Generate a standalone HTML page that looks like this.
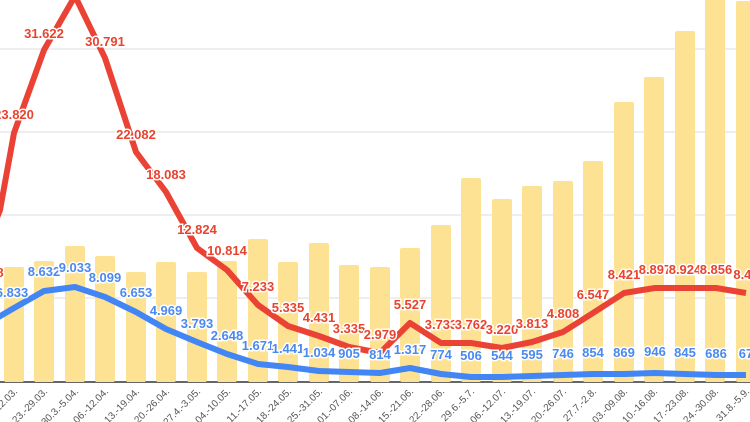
<!DOCTYPE html>
<html><head><meta charset="utf-8"><style>
html,body{margin:0;padding:0;background:#fff;}
svg{display:block;font-family:"Liberation Sans",Arial,sans-serif;}
.r{fill:#e8432f;font-weight:bold;font-size:13px;text-anchor:middle;paint-order:stroke;stroke:#fff;stroke-width:3px;}
.b{fill:#4a89f0;font-weight:bold;font-size:13px;text-anchor:middle;paint-order:stroke;stroke:#fff;stroke-width:3px;}
.x{fill:#555;font-size:10px;text-anchor:end;}
</style></head><body>
<svg width="750" height="422" viewBox="0 0 750 422">
<g stroke="#dcdcdc" stroke-width="1">
<line x1="0" y1="49" x2="750" y2="49"/><line x1="0" y1="132" x2="750" y2="132"/>
<line x1="0" y1="215" x2="750" y2="215"/><line x1="0" y1="298" x2="750" y2="298"/>
</g>
<line x1="0" y1="382" x2="750" y2="382" stroke="#666" stroke-width="2"/>
<g fill="#fde293">
<rect x="4" y="267" width="20" height="115" rx="2"/>
<rect x="34" y="261" width="20" height="121" rx="2"/>
<rect x="65" y="246" width="20" height="136" rx="2"/>
<rect x="95" y="256" width="20" height="126" rx="2"/>
<rect x="126" y="272" width="20" height="110" rx="2"/>
<rect x="156" y="262" width="20" height="120" rx="2"/>
<rect x="187" y="272" width="20" height="110" rx="2"/>
<rect x="217" y="261" width="20" height="121" rx="2"/>
<rect x="248" y="239" width="20" height="143" rx="2"/>
<rect x="278" y="262" width="20" height="120" rx="2"/>
<rect x="309" y="243" width="20" height="139" rx="2"/>
<rect x="339" y="265" width="20" height="117" rx="2"/>
<rect x="370" y="267" width="20" height="115" rx="2"/>
<rect x="400" y="248" width="20" height="134" rx="2"/>
<rect x="431" y="225" width="20" height="157" rx="2"/>
<rect x="461" y="178" width="20" height="204" rx="2"/>
<rect x="492" y="199" width="20" height="183" rx="2"/>
<rect x="522" y="186" width="20" height="196" rx="2"/>
<rect x="553" y="181" width="20" height="201" rx="2"/>
<rect x="583" y="161" width="20" height="221" rx="2"/>
<rect x="614" y="102" width="20" height="280" rx="2"/>
<rect x="644" y="77" width="20" height="305" rx="2"/>
<rect x="675" y="31" width="20" height="351" rx="2"/>
<rect x="705" y="-5" width="20" height="387" rx="2"/>
<rect x="736" y="1" width="20" height="381" rx="2"/>
</g>
<polyline fill="none" stroke="#4285f4" stroke-width="6" stroke-linejoin="round" points="-10,322 14,308 44,291 75,287 105,297 136,312 166,329 197,342 227,354 258,364 288,367 319,371 349,372 380,373 410,368 441,374 471,377 502,377 532,376 563,375 593,374 624,374 655,373 685,374 716,375 746,375"/>
<polyline fill="none" stroke="#ea4335" stroke-width="6" stroke-linejoin="round" points="-6,225 0,210 14,133 44,50 75,-4 105,58 136,152 166,192 197,248 227,270 258,305 288,326 319,336 349,347 380,353 410,323 441,343 471,343 502,348 532,342 563,332 593,313 624,293 655,288 685,288 716,288 746,293"/>
<g class="r">
<text x="0" y="277">8</text>
<text x="14" y="119">23.820</text><text x="44" y="38">31.622</text><text x="105" y="46">30.791</text>
<text x="136" y="139">22.082</text><text x="166" y="179">18.083</text><text x="197" y="234">12.824</text>
<text x="227" y="255">10.814</text><text x="258" y="291">7.233</text><text x="288" y="312">5.335</text>
<text x="319" y="322">4.431</text><text x="349" y="333">3.335</text><text x="380" y="339">2.979</text>
<text x="410" y="309">5.527</text><text x="441" y="329">3.733</text><text x="471" y="329">3.762</text>
<text x="502" y="334">3.220</text><text x="532" y="328">3.813</text><text x="563" y="318">4.808</text>
<text x="593" y="299">6.547</text><text x="624" y="279">8.421</text><text x="655" y="274">8.897</text>
<text x="685" y="274">8.924</text><text x="716" y="274">8.856</text><text x="746" y="279">8.44</text>
</g>
<g class="b">
<text x="12" y="297">6.833</text><text x="44" y="276">8.632</text><text x="75" y="272">9.033</text>
<text x="105" y="282">8.099</text><text x="136" y="297">6.653</text><text x="166" y="315">4.969</text>
<text x="197" y="328">3.793</text><text x="227" y="340">2.648</text><text x="258" y="350">1.671</text>
<text x="288" y="353">1.441</text><text x="319" y="357">1.034</text><text x="349" y="358">905</text>
<text x="380" y="359">814</text><text x="410" y="354">1.317</text><text x="441" y="359">774</text>
<text x="471" y="360">506</text><text x="502" y="360">544</text><text x="532" y="359">595</text>
<text x="563" y="358">746</text><text x="593" y="357">854</text><text x="624" y="357">869</text>
<text x="655" y="356">946</text><text x="685" y="357">845</text><text x="716" y="358">686</text>
<text x="746" y="358">67</text>
</g>
<g class="x">
<text transform="translate(18,392) rotate(-45)">16.-22.03.</text>
<text transform="translate(48,392) rotate(-45)">23.-29.03.</text>
<text transform="translate(79,392) rotate(-45)">30.3.-5.04.</text>
<text transform="translate(109,392) rotate(-45)">06.-12.04.</text>
<text transform="translate(140,392) rotate(-45)">13.-19.04.</text>
<text transform="translate(170,392) rotate(-45)">20.-26.04.</text>
<text transform="translate(201,392) rotate(-45)">27.4.-3.05.</text>
<text transform="translate(231,392) rotate(-45)">04.-10.05.</text>
<text transform="translate(262,392) rotate(-45)">11.-17.05.</text>
<text transform="translate(292,392) rotate(-45)">18.-24.05.</text>
<text transform="translate(323,392) rotate(-45)">25.-31.05.</text>
<text transform="translate(353,392) rotate(-45)">01.-07.06.</text>
<text transform="translate(384,392) rotate(-45)">08.-14.06.</text>
<text transform="translate(414,392) rotate(-45)">15.-21.06.</text>
<text transform="translate(445,392) rotate(-45)">22.-28.06.</text>
<text transform="translate(475,392) rotate(-45)">29.6.-5.7.</text>
<text transform="translate(506,392) rotate(-45)">06.-12.07.</text>
<text transform="translate(536,392) rotate(-45)">13.-19.07.</text>
<text transform="translate(567,392) rotate(-45)">20.-26.07.</text>
<text transform="translate(597,392) rotate(-45)">27.7.-2.8.</text>
<text transform="translate(628,392) rotate(-45)">03.-09.08.</text>
<text transform="translate(658,392) rotate(-45)">10.-16.08.</text>
<text transform="translate(689,392) rotate(-45)">17.-23.08.</text>
<text transform="translate(719,392) rotate(-45)">24.-30.08.</text>
<text transform="translate(750,392) rotate(-45)">31.8.-5.9.</text>
</g>
</svg>
</body></html>
